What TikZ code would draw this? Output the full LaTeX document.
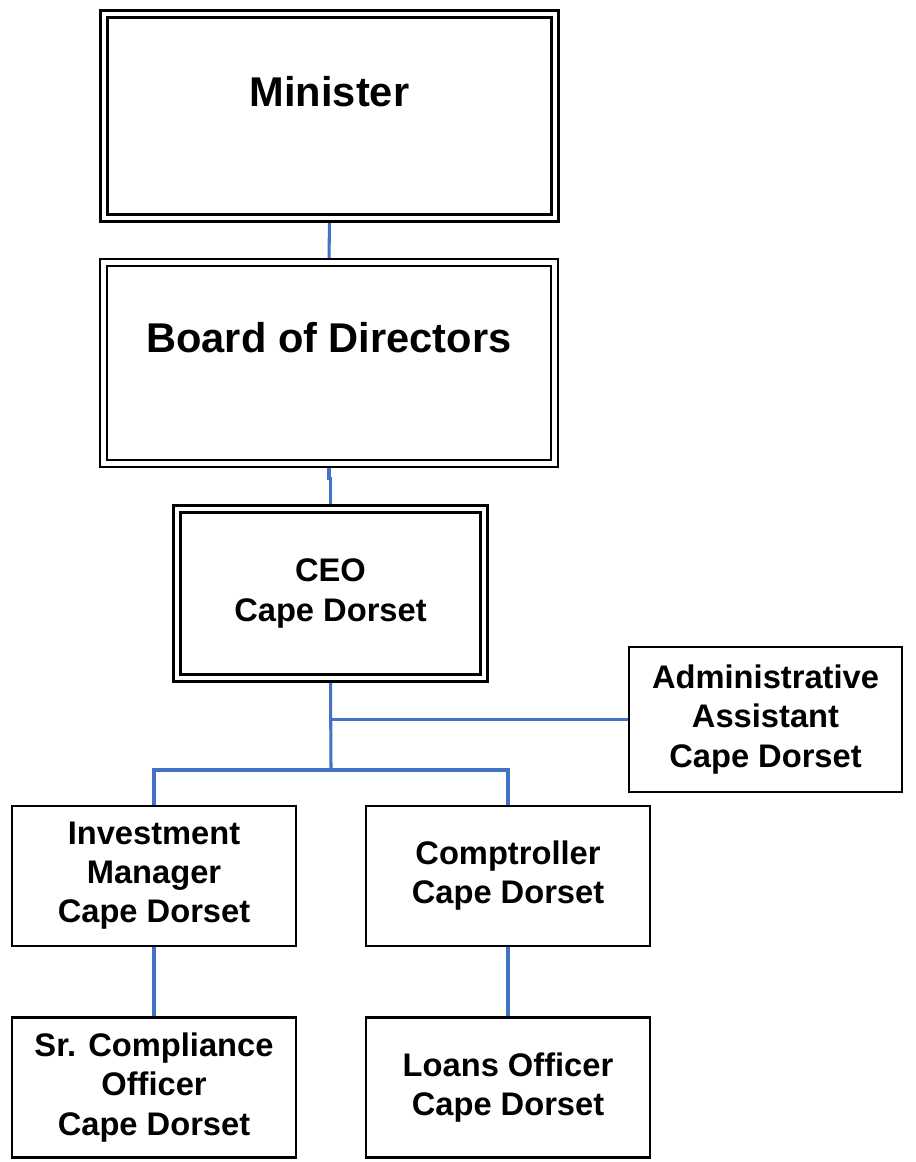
\documentclass[tikz,border=0pt]{standalone}
\usepackage{fontspec}
\setmainfont{Liberation Sans}
\usetikzlibrary{backgrounds}
\definecolor{linkblue}{HTML}{4472C4}
\begin{document}
\begin{tikzpicture}[x=0.75pt, y=-0.75pt, line join=miter,
	dblbox/.style={draw, double, line width=2.1pt, double distance=3.2pt, inner sep=0pt},
	box/.style={draw, line width=2pt, inner sep=0pt, minimum width=213pt, minimum height=105pt, align=center, font=\fontsize{24.5}{29.3}\selectfont\bfseries},
	bigtext/.style={font=\fontsize{31.2}{36}\selectfont\bfseries},
	conn/.style={linkblue, line width=2.3pt}]
	\useasboundingbox (0,0) rectangle (915,1162);
	\node[dblbox, minimum width=338.25pt, minimum height=153pt] (minister) at (329.5,116) {};
	\node[bigtext] (ministertext) at (329.5,92) {Minister};
	\node[dblbox, minimum width=338.25pt, minimum height=150.75pt] (board) at (329,363) {};
	\node[bigtext] (boardtext) at (329,338) {Board of Directors};
	\node[dblbox, line width=1.9pt, minimum width=230.25pt, minimum height=126.75pt, align=center, font=\fontsize{24.5}{29.3}\selectfont\bfseries] (ceo) at (330.5,593.5) {CEO\\Cape Dorset};
	\node[box, minimum width=204.75pt, minimum height=108.75pt] (admin) at (765.5,719.5) {Administrative\\Assistant\\Cape Dorset};
	\node[box] (invest) at (154,876) {Investment\\Manager\\Cape Dorset};
	\node[box] (comp) at (508,876) {Comptroller\\Cape Dorset};
	\node[box] (compliance) at (154,1087.5) {Sr. Compliance\\Officer\\Cape Dorset};
	\node[box] (loans) at (508,1087.5) {Loans Officer\\Cape Dorset};
	\coordinate (bus) at (331,770);
	\begin{scope}[on background layer]
		\draw[conn] (minister.south) -- (board.north);
		\draw[conn] (board.south) -- ++(0,14) -| (ceo.north);
		\draw[conn] (ceo.south) -- (bus);
		\draw[conn] (ceo.south |- admin.west) -- (admin.west);
		\draw[conn] (invest.north) |- (bus) -| (comp.north);
		\draw[conn] (invest) -- (compliance);
		\draw[conn] (comp) -- (loans);
	\end{scope}
\end{tikzpicture}
\end{document}
